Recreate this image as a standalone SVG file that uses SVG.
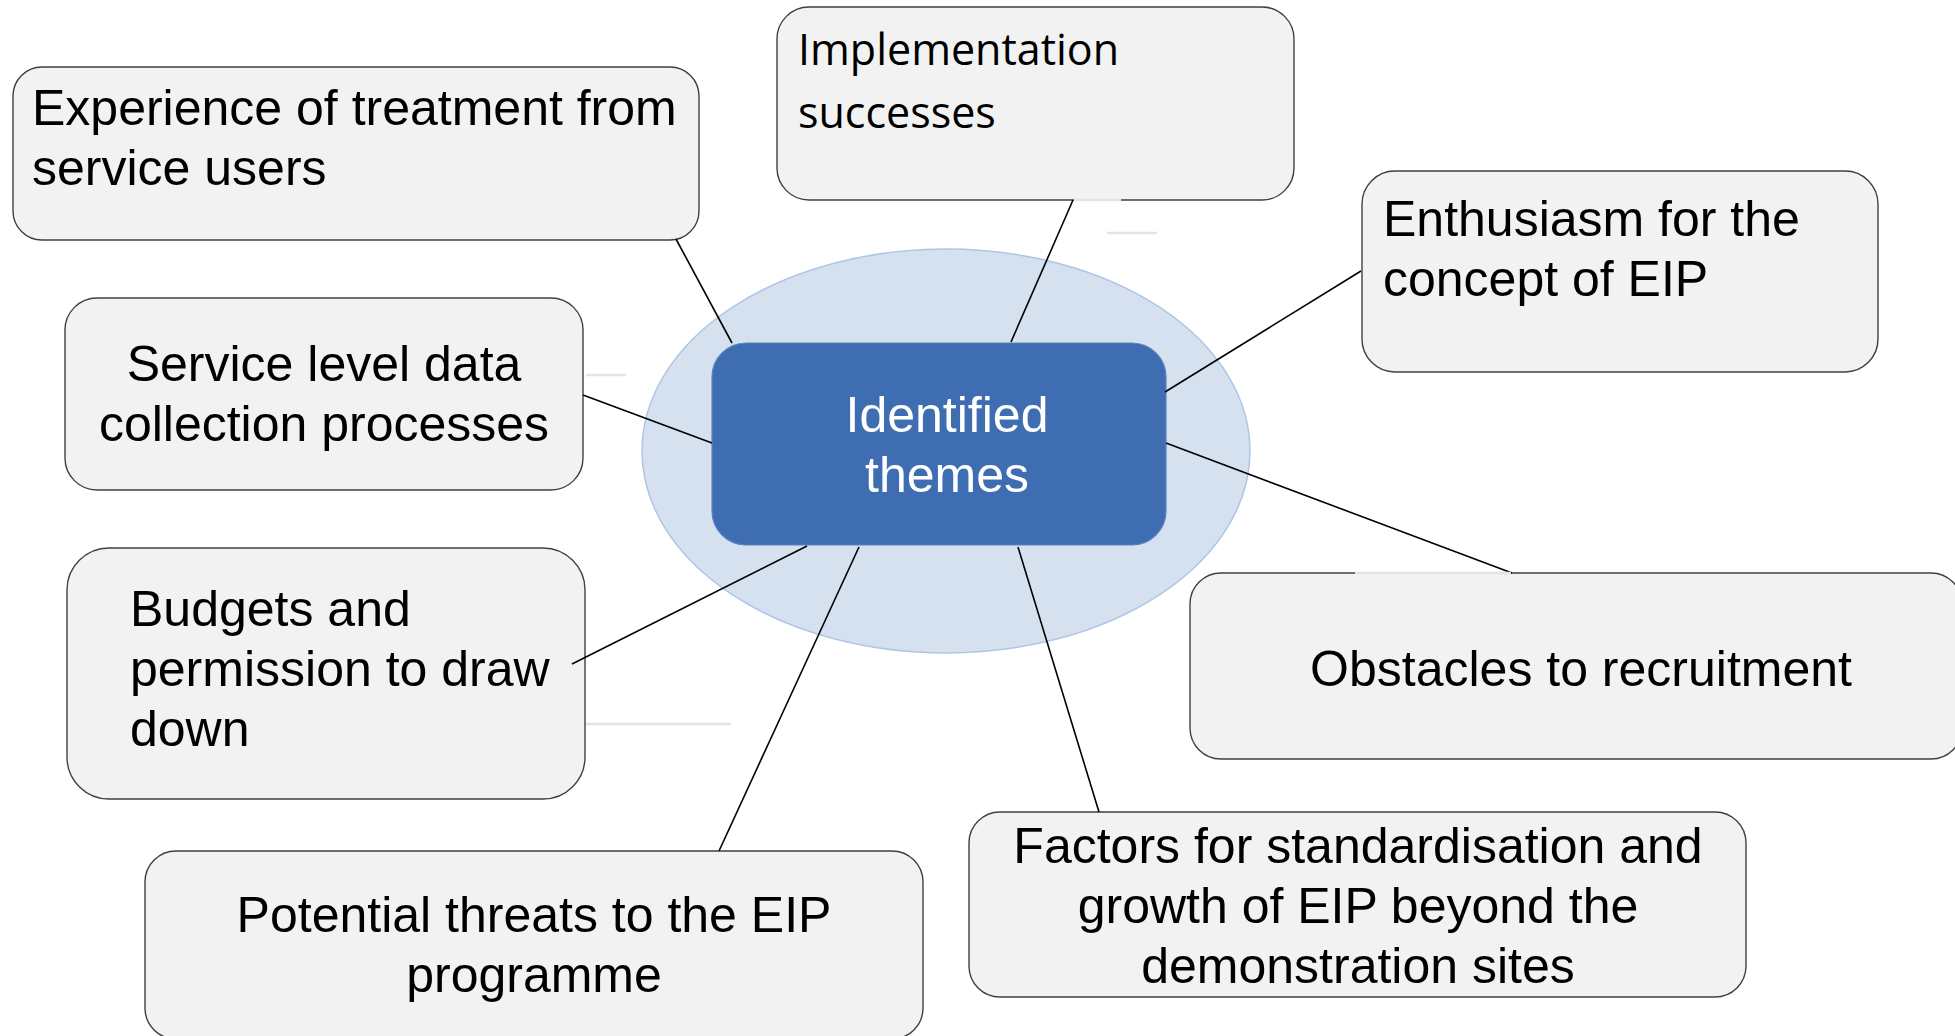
<svg xmlns="http://www.w3.org/2000/svg" width="1955" height="1036" viewBox="0 0 1955 1036">
<defs>
<style>
.box{fill:#F2F2F2;stroke:#404040;stroke-width:1.4}
.t{font-family:"Liberation Sans",Arial,sans-serif;font-size:50px;fill:#000}
.c{text-anchor:middle}
.conn line{stroke:#000;stroke-width:1.6}
.faint{stroke:#E4E4E4;stroke-width:2.5}
</style>
</defs>
<rect width="1955" height="1036" fill="#FFFFFF"/>
<g id="halo">
<ellipse cx="946" cy="451" rx="304" ry="202" fill="#D6E1F0" stroke="#AFC5E6" stroke-width="1.5"/>
</g>
<g id="center">
<rect x="712" y="343" width="454" height="202" rx="34" fill="#3F6DB1" stroke="#5B83C2" stroke-width="1.2"/>
<text class="t c" x="947" y="432" style="fill:#FFFFFF">Identified</text>
<text class="t c" x="947" y="492" style="fill:#FFFFFF">themes</text>
</g>
<g id="experience">
<rect class="box" x="13" y="67" width="686" height="173" rx="29"/>
<text class="t" x="32" y="125">Experience of treatment from</text>
<text class="t" x="32" y="185">service users</text>
</g>
<g id="implementation">
<rect class="box" x="777" y="7" width="517" height="193" rx="32"/>
<text x="798" y="65" style="font-family:'Open Sans','Noto Sans',sans-serif;font-size:43px;fill:#000">Implementation</text>
<text x="798" y="128" style="font-family:'Open Sans','Noto Sans',sans-serif;font-size:43px;fill:#000">successes</text>
</g>
<g id="enthusiasm">
<rect class="box" x="1362" y="171" width="516" height="201" rx="33"/>
<text class="t" x="1383" y="236">Enthusiasm for the</text>
<text class="t" x="1383" y="296">concept of EIP</text>
</g>
<g id="service">
<rect class="box" x="65" y="298" width="518" height="192" rx="32"/>
<text class="t c" x="324" y="381">Service level data</text>
<text class="t c" x="324" y="441">collection processes</text>
</g>
<g id="budgets">
<rect class="box" x="67" y="548" width="518" height="251" rx="42"/>
<text class="t" x="130" y="626">Budgets and</text>
<text class="t" x="130" y="686">permission to draw</text>
<text class="t" x="130" y="746">down</text>
</g>
<g id="obstacles">
<rect class="box" x="1190" y="573" width="772" height="186" rx="31"/>
<text class="t c" x="1581" y="686">Obstacles to recruitment</text>
</g>
<g id="factors">
<rect class="box" x="969" y="812" width="777" height="185" rx="31"/>
<text class="t c" x="1358" y="863">Factors for standardisation and</text>
<text class="t c" x="1358" y="923">growth of EIP beyond the</text>
<text class="t c" x="1358" y="983">demonstration sites</text>
</g>
<g id="potential">
<rect class="box" x="145" y="851" width="778" height="188" rx="31"/>
<text class="t c" x="534" y="932">Potential threats to the EIP</text>
<text class="t c" x="534" y="992">programme</text>
</g>
<g id="connectors" class="conn">
<line x1="676" y1="239" x2="732" y2="343"/>
<line x1="1073" y1="200" x2="1011" y2="342"/>
<line x1="1361" y1="271" x2="1165" y2="392"/>
<line x1="583" y1="395" x2="712" y2="443"/>
<line x1="1166" y1="443" x2="1512" y2="573"/>
<line x1="572" y1="664" x2="807" y2="546"/>
<line x1="859" y1="547" x2="719" y2="851"/>
<line x1="1018" y1="547" x2="1099" y2="812"/>
</g>
<g id="faint-marks">
<line class="faint" x1="1074" y1="200" x2="1121" y2="200"/>
<line class="faint" x1="1107" y1="233" x2="1157" y2="233"/>
<line class="faint" x1="586" y1="375" x2="626" y2="375"/>
<line class="faint" x1="586" y1="724" x2="731" y2="724"/>
<line class="faint" x1="1355" y1="573" x2="1511" y2="573"/>
</g>
</svg>
